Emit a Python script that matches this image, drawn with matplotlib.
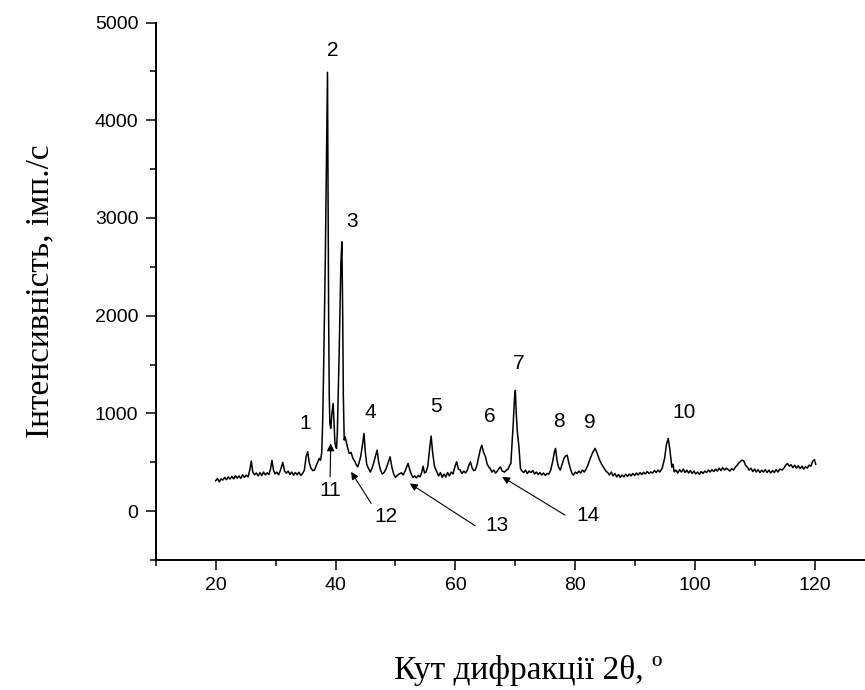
import matplotlib
matplotlib.use("Agg")
import matplotlib.pyplot as plt
from matplotlib.ticker import MultipleLocator

# XRD pattern (2theta in degrees, counts per second)
two_theta = [
    20.0, 20.3, 20.6, 20.9, 21.2, 21.5, 21.8, 22.1, 22.4, 22.7, 23.0, 23.3, 23.6, 23.9,
    24.2, 24.5, 24.8, 25.1, 25.4, 25.7, 25.95, 26.2, 26.5, 26.8, 27.1, 27.4, 27.7, 28.0,
    28.3, 28.6, 28.9, 29.15, 29.4, 29.65, 29.9, 30.2, 30.5, 30.8, 31.2, 31.5, 31.8, 32.1,
    32.4, 32.7, 33.0, 33.3, 33.6, 33.9, 34.2, 34.5, 34.8, 35.1, 35.35, 35.6, 35.9, 36.2,
    36.5, 36.8, 37.05, 37.3, 37.5, 37.7, 37.85, 38.0, 38.15, 38.3, 38.45, 38.55, 38.66,
    38.75, 38.85, 38.95, 39.05, 39.2, 39.4, 39.6, 39.75, 39.9, 40.05, 40.17, 40.3, 40.45,
    40.6, 40.75, 40.9, 41.06, 41.2, 41.3, 41.45, 41.6, 41.85, 42.05, 42.3, 42.6, 42.9,
    43.25, 43.5, 43.7, 43.95, 44.2, 44.5, 44.75, 44.95, 45.2, 45.5, 45.8, 46.1, 46.4,
    46.65, 46.94, 47.2, 47.5, 47.8, 48.1, 48.4, 48.7, 49.1, 49.4, 49.7, 50.0, 50.3, 50.6,
    51.0, 51.3, 51.6, 51.85, 52.1, 52.4, 52.7, 52.9, 53.2, 53.5, 53.8, 54.1, 54.4, 54.6,
    54.85, 55.1, 55.4, 55.7, 55.95, 56.2, 56.5, 56.9, 57.2, 57.5, 57.8, 58.1, 58.4, 58.7,
    59.0, 59.3, 59.6, 59.9, 60.2, 60.5, 60.8, 61.1, 61.4, 61.7, 62.0, 62.25, 62.5, 62.8,
    63.05, 63.3, 63.6, 63.9, 64.2, 64.4, 64.7, 65.0, 65.3, 65.6, 65.8, 66.1, 66.4, 66.7,
    66.9, 67.2, 67.5, 67.8, 68.2, 68.5, 68.8, 69.05, 69.25, 69.45, 69.65, 69.85, 70.0,
    70.15, 70.35, 70.6, 70.85, 71.1, 71.4, 71.7, 72.0, 72.3, 72.6, 72.9, 73.2, 73.5,
    73.8, 74.1, 74.4, 74.7, 75.0, 75.3, 75.6, 75.9, 76.2, 76.5, 76.7, 76.95, 77.2, 77.5,
    77.8, 78.1, 78.4, 78.65, 78.9, 79.2, 79.5, 79.7, 80.0, 80.3, 80.6, 80.9, 81.2, 81.5,
    81.8, 82.1, 82.5, 82.9, 83.3, 83.6, 84.0, 84.4, 84.8, 85.1, 85.4, 85.7, 86.0, 86.3,
    86.6, 86.9, 87.2, 87.5, 87.8, 88.1, 88.4, 88.7, 89.0, 89.3, 89.6, 89.9, 90.2, 90.5,
    90.8, 91.1, 91.4, 91.7, 92.0, 92.3, 92.6, 92.9, 93.2, 93.5, 93.8, 94.1, 94.5, 94.9,
    95.2, 95.5, 95.8, 96.1, 96.3, 96.5, 96.8, 97.1, 97.4, 97.7, 98.0, 98.3, 98.6, 98.9,
    99.2, 99.5, 99.8, 100.1, 100.4, 100.7, 101.0, 101.3, 101.6, 101.9, 102.2, 102.5,
    102.8, 103.1, 103.4, 103.7, 104.0, 104.3, 104.6, 104.9, 105.2, 105.5, 105.8, 106.1,
    106.4, 106.7, 107.0, 107.4, 107.8, 108.1, 108.4, 108.7, 109.0, 109.3, 109.6, 109.9,
    110.2, 110.5, 110.8, 111.1, 111.4, 111.7, 112.0, 112.3, 112.6, 112.9, 113.2, 113.5,
    113.8, 114.1, 114.5, 114.8, 115.1, 115.4, 115.7, 116.0, 116.3, 116.6, 116.9, 117.2,
    117.5, 117.8, 118.1, 118.4, 118.7, 119.0, 119.3, 119.6, 119.9, 120.1,
]
counts = [
    310, 335, 300, 330, 318, 345, 322, 350, 328, 355, 330, 362, 338, 360,
    335, 372, 345, 368, 350, 420, 512, 400, 372, 390, 360, 395, 365, 400,
    370, 392, 375, 430, 520, 420, 380, 400, 372, 415, 498, 410, 388, 410,
    375, 400, 368, 395, 372, 398, 365, 385, 420, 560, 610, 500, 440, 415,
    420, 470, 505, 540, 520, 600, 900, 1400, 2000, 2600, 3400, 4000, 4490,
    3300, 2000, 1200, 900, 846, 1000, 1102, 900, 700, 660, 642, 800, 1200,
    1600, 2100, 2550, 2756, 2000, 1200, 727, 760, 693, 640, 590, 600, 540,
    505, 470, 453, 500, 560, 680, 795, 620, 480, 437, 400, 440, 500,
    560, 624, 500, 420, 380, 395, 430, 480, 556, 450, 380, 345, 365, 380,
    392, 370, 410, 450, 488, 420, 370, 345, 360, 340, 365, 350, 400, 460,
    390, 400, 460, 640, 768, 600, 460, 402, 360, 395, 345, 380, 350, 395,
    360, 400, 380, 450, 505, 430, 420, 385, 410, 390, 420, 470, 505, 440,
    415, 420, 470, 560, 640, 675, 600, 560, 480, 450, 437, 400, 420, 390,
    402, 430, 453, 410, 400, 420, 430, 470, 488, 700, 900, 1150, 1235,
    1000, 800, 658, 437, 410, 395, 420, 385, 410, 395, 415, 380, 400,
    375, 395, 370, 390, 365, 385, 380, 420, 500, 600, 642, 520, 450, 420,
    480, 540, 565, 573, 500, 430, 380, 368, 400, 385, 410, 390, 420, 400,
    430, 470, 540, 600, 642, 600, 530, 480, 440, 410, 395, 370, 400, 360,
    385, 350, 375, 345, 370, 350, 378, 355, 380, 360, 385, 365, 390, 370,
    395, 375, 398, 380, 405, 385, 400, 390, 415, 395, 420, 400, 440, 540,
    680, 744, 620, 450, 480, 402, 420, 390, 425, 400, 430, 395, 420, 390,
    415, 385, 410, 380, 400, 375, 405, 385, 410, 395, 420, 400,
    425, 405, 430, 410, 440, 415, 445, 420, 440, 425, 410, 435,
    420, 450, 470, 500, 522, 515, 470, 450, 420, 440, 405, 430,
    400, 425, 395, 420, 400, 425, 395, 420, 390, 415, 395, 425,
    400, 430, 420, 440, 470, 488, 460, 475, 445, 470, 440, 465,
    435, 460, 430, 455, 440, 470, 460, 510, 529, 480,
]

# peak numbers above the pattern
peak_names = ["1", "2", "3", "4", "5", "6", "7", "8", "9", "10"]
peak_name_x = [35.0, 39.6, 42.7, 45.8, 56.7, 65.8, 70.6, 77.2, 82.35, 98.2]
peak_name_y = [897, 4718, 2961, 1010, 1068, 965, 1515, 914, 908, 1006]

# numbered arrows below the pattern
arrow_names = ["11", "12", "13", "14"]
arrow_name_x = [39.2, 48.45, 66.95, 82.05]
arrow_name_y = [215, -58, -150, -41]
arrow_tail = [(39.1, 351), (45.95, 79), (63.3, -150), (78.3, -41)]
arrow_head = [(39.2, 693), (42.6, 402), (52.4, 283), (67.8, 351)]

x_ticks = [20, 40, 60, 80, 100, 120]
y_ticks = [0, 1000, 2000, 3000, 4000, 5000]

W, H = 865, 690
fig = plt.figure(figsize=(W / 100, H / 100), dpi=100)
fig.patch.set_facecolor("white")

# axes run a bit past the right edge of the picture, as in the original
left, right, top, bottom = 155.7, 875.0, 22.5, 560.0
ax = fig.add_axes([left / W, 1 - bottom / H, (right - left) / W, (bottom - top) / H])

ax.plot(two_theta, counts, color="black", lw=1.1)

ax.set_xlim(10, 130)
ax.set_ylim(-500, 5000)
ax.set_xticks(x_ticks)
ax.set_yticks(y_ticks)
ax.xaxis.set_minor_locator(MultipleLocator(10))
ax.yaxis.set_minor_locator(MultipleLocator(500))

for side in ["top", "right"]:
    ax.spines[side].set_visible(False)
for side in ["left", "bottom"]:
    ax.spines[side].set_linewidth(1.4)

ax.tick_params(which="major", direction="out", length=7.5, width=1.1, pad=5,
               labelsize=14)
ax.tick_params(which="minor", direction="out", length=4.2, width=1.1)
for lab in ax.get_xticklabels() + ax.get_yticklabels():
    lab.set_family("Liberation Sans")

for name, x, y in zip(peak_names, peak_name_x, peak_name_y):
    ax.text(x, y, name, ha="center", va="center", fontsize=15, family="Liberation Sans")

for name, x, y in zip(arrow_names, arrow_name_x, arrow_name_y):
    ax.text(x, y, name, ha="center", va="center", fontsize=15, family="Liberation Sans")

for tail, head in zip(arrow_tail, arrow_head):
    ax.annotate("", xy=head, xytext=tail,
                arrowprops=dict(arrowstyle="-|>", lw=0.8, color="black",
                                mutation_scale=11, shrinkA=0, shrinkB=0))

fig.text(40 / W, 1 - 291 / H, "Інтенсивність, імп./с", rotation=90,
         ha="center", va="center", fontsize=24, family="Liberation Serif")
fig.text(528 / W, 1 - 670 / H, "Кут дифракції 2θ, º",
         ha="center", va="center", fontsize=24, family="Liberation Serif")

fig.savefig("out.png", dpi=100, facecolor="white")
